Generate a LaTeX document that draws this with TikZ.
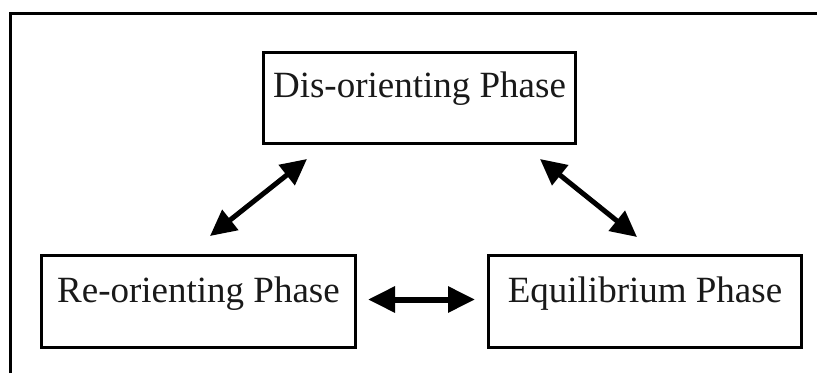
\documentclass[tikz,border=0pt]{standalone}
\usepackage{fontspec}
\setmainfont{Liberation Serif}
\usetikzlibrary{arrows.meta}
\begin{document}
\begin{tikzpicture}[x=1pt,y=-1pt,
  phasebox/.style={draw=black, line width=3pt, inner xsep=0pt, inner ysep=0pt,
    align=center, font=\fontsize{37}{40}\selectfont, text=black!90},
  dblarrow/.style={{Triangle[length=26pt,width=25pt]}-{Triangle[length=26pt,width=25pt]}, line width=5pt},
  hdblarrow/.style={{Triangle[length=27pt,width=25pt]}-{Triangle[length=27pt,width=25pt]}, line width=6pt}]
\useasboundingbox (0,0) rectangle (817,373);
% outer frame (left and top only)
\draw[line width=3pt] (10.5,373) -- (10.5,13) -- (817,13);
% boxes
\node[phasebox, minimum width=312pt, text height=44.5pt, text depth=46.5pt] (dis) at (419.5,98) {Dis-orienting Phase};
\node[phasebox, minimum width=314pt, text height=47.5pt, text depth=44.5pt] (re) at (198.5,301) {Re-orienting Phase};
\node[phasebox, minimum width=313pt, text height=47.5pt, text depth=44.5pt] (eq) at (645,301) {Equilibrium Phase};
% arrows
\coordinate (l1) at (210,236);
\coordinate (l2) at (307,159);
\coordinate (r1) at (540,159);
\coordinate (r2) at (637,237);
\draw[dblarrow] (l1) -- (l2);
\draw[dblarrow] (r1) -- (r2);
\draw[hdblarrow, shorten <=11pt, shorten >=12pt] ([yshift=1.5pt]re.east) -- ([yshift=1.5pt]eq.west);
\end{tikzpicture}
\end{document}
